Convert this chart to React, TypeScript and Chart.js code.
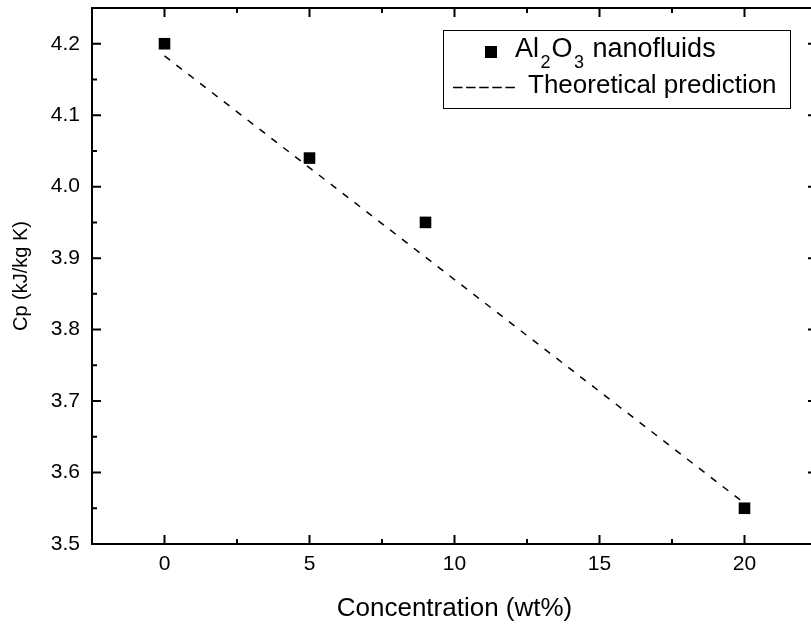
import { useEffect, useRef } from "react";
import { Chart, registerables } from "chart.js";

Chart.register(...registerables);

// ---- data ----
const CONCENTRATION = [0, 5, 9, 20];
const CP_MEASURED = [4.2, 4.04, 3.95, 3.55];
const PREDICTION_X = [0, 20];
const PREDICTION_Y = [4.183, 3.557];

const X_TICKS = [0, 5, 10, 15, 20];
const X_MINOR_TICKS = [2.5, 7.5, 12.5, 17.5];
const Y_TICKS = [3.5, 3.6, 3.7, 3.8, 3.9, 4.0, 4.1, 4.2];
const Y_MINOR_TICKS = [3.55, 3.65, 3.75, 3.85, 3.95, 4.05, 4.15];
const X_RANGE = [-2.5, 22.5];
const Y_RANGE = [3.5, 4.25];

const X_TITLE = "Concentration (wt%)";
const Y_TITLE = "Cp (kJ/kg K)";
const LEGEND_SERIES_PARTS: [string, boolean][] = [
  ["Al", false],
  ["2", true],
  ["O", false],
  ["3", true],
  [" nanofluids", false],
];
const LEGEND_LINE_LABEL = "Theoretical prediction";

const FONT = '"Liberation Sans", Arial, Helvetica, sans-serif';

const frameTicksPlugin = {
  id: "frameTicks",
  afterDraw(chart: any) {
    const { ctx, chartArea } = chart;
    const { left, right, top, bottom } = chartArea;
    const xs = chart.scales.x;
    const ys = chart.scales.y;
    ctx.save();
    ctx.strokeStyle = "#000";
    ctx.lineWidth = 2;
    ctx.lineCap = "butt";
    ctx.strokeRect(left, top, right - left, bottom - top);
    const major = 9;
    const minor = 5;
    ctx.beginPath();
    const xt = (vals: number[], len: number) => {
      vals.forEach((v) => {
        const px = xs.getPixelForValue(v);
        ctx.moveTo(px, bottom);
        ctx.lineTo(px, bottom - len);
        ctx.moveTo(px, top);
        ctx.lineTo(px, top + len);
      });
    };
    const yt = (vals: number[], len: number) => {
      vals.forEach((v) => {
        const py = ys.getPixelForValue(v);
        ctx.moveTo(left, py);
        ctx.lineTo(left + len, py);
        ctx.moveTo(right, py);
        ctx.lineTo(right - len, py);
      });
    };
    xt(X_TICKS, major);
    xt(X_MINOR_TICKS, minor);
    yt(Y_TICKS, major);
    yt(Y_MINOR_TICKS, minor);
    ctx.stroke();
    ctx.restore();
  },
};

const legendPlugin = {
  id: "customLegend",
  afterDraw(chart: any) {
    const ctx = chart.ctx;
    ctx.save();
    ctx.strokeStyle = "#000";
    ctx.lineWidth = 1;
    ctx.strokeRect(443.5, 30.5, 347, 78);
    ctx.fillStyle = "#000";
    ctx.fillRect(485, 46, 12, 12);
    const big = `26px ${FONT}`;
    const row1 = `27px ${FONT}`;
    const small = `18px ${FONT}`;
    ctx.textAlign = "left";
    ctx.textBaseline = "alphabetic";
    let x = 515;
    for (const [t, isSub] of LEGEND_SERIES_PARTS) {
      ctx.font = isSub ? small : row1;
      ctx.fillText(t, x, isSub ? 68 : 57);
      x += ctx.measureText(t).width + (isSub ? 1 : 1.5);
    }
    ctx.setLineDash([9.5, 3.6]);
    ctx.lineWidth = 1.5;
    ctx.beginPath();
    ctx.moveTo(453, 87.5);
    ctx.lineTo(515, 87.5);
    ctx.stroke();
    ctx.setLineDash([]);
    ctx.font = big;
    ctx.fillText(LEGEND_LINE_LABEL, 528, 93);
    ctx.restore();
  },
};

export default function App() {
  const canvasRef = useRef<HTMLCanvasElement | null>(null);

  useEffect(() => {
    const canvas = canvasRef.current;
    if (!canvas) return;
    const chart = new Chart(canvas, {
      type: "scatter",
      data: {
        datasets: [
          {
            label: "Al2O3 nanofluids",
            data: CONCENTRATION.map((x, i) => ({ x, y: CP_MEASURED[i] })),
            pointStyle: "rect",
            pointRadius: 8.2,
            pointHoverRadius: 8.2,
            pointBorderWidth: 0,
            backgroundColor: "#000",
            borderColor: "#000",
            showLine: false,
            order: 0,
          },
          {
            label: LEGEND_LINE_LABEL,
            data: PREDICTION_X.map((x, i) => ({ x, y: PREDICTION_Y[i] })),
            showLine: true,
            borderColor: "#000",
            borderWidth: 1.5,
            borderDash: [7, 8],
            pointRadius: 0,
            pointHoverRadius: 0,
            fill: false,
            order: 1,
          },
        ],
      },
      options: {
        responsive: false,
        animation: false,
        devicePixelRatio: 1,
        events: [],
        layout: { autoPadding: false, padding: { top: 8, right: 3, left: 0, bottom: 0 } },
        plugins: {
          legend: { display: false },
          tooltip: { enabled: false },
        },
        scales: {
          x: {
            type: "linear",
            min: X_RANGE[0],
            max: X_RANGE[1],
            grid: { display: false, drawTicks: false },
            border: { display: false },
            afterBuildTicks: (s: any) => {
              s.ticks = X_TICKS.map((v) => ({ value: v }));
            },
            afterFit: (s: any) => {
              s.height = 82;
              s.paddingLeft = 0;
              s.paddingRight = 0;
            },
            ticks: {
              font: { family: FONT, size: 21 },
              color: "#000",
              padding: 8,
              maxRotation: 0,
              autoSkip: false,
              callback: (v: any) => String(v),
            },
            title: {
              display: true,
              text: X_TITLE,
              font: { family: FONT, size: 26 },
              color: "#000",
              padding: { top: 0, bottom: 2 },
            },
          },
          y: {
            type: "linear",
            min: Y_RANGE[0],
            max: Y_RANGE[1],
            grid: { display: false, drawTicks: false },
            border: { display: false },
            afterBuildTicks: (s: any) => {
              s.ticks = Y_TICKS.map((v) => ({ value: v }));
            },
            afterFit: (s: any) => {
              s.width = 92;
              s.paddingTop = 0;
              s.paddingBottom = 0;
            },
            ticks: {
              font: { family: FONT, size: 21 },
              color: "#000",
              padding: 12,
              autoSkip: false,
              callback: (v: any) => Number(v).toFixed(1),
            },
            title: {
              display: true,
              text: Y_TITLE,
              font: { family: FONT, size: 20 },
              color: "#000",
              padding: { top: 9, bottom: 0 },
            },
          },
        },
      },
      plugins: [frameTicksPlugin, legendPlugin],
    });
    return () => chart.destroy();
  }, []);

  return (
    <div
      style={{
        position: "fixed",
        left: 0,
        top: 0,
        width: 811,
        height: 626,
        overflow: "hidden",
        background: "#fff",
      }}
    >
      <canvas ref={canvasRef} width={820} height={626} style={{ display: "block" }} />
    </div>
  );
}
